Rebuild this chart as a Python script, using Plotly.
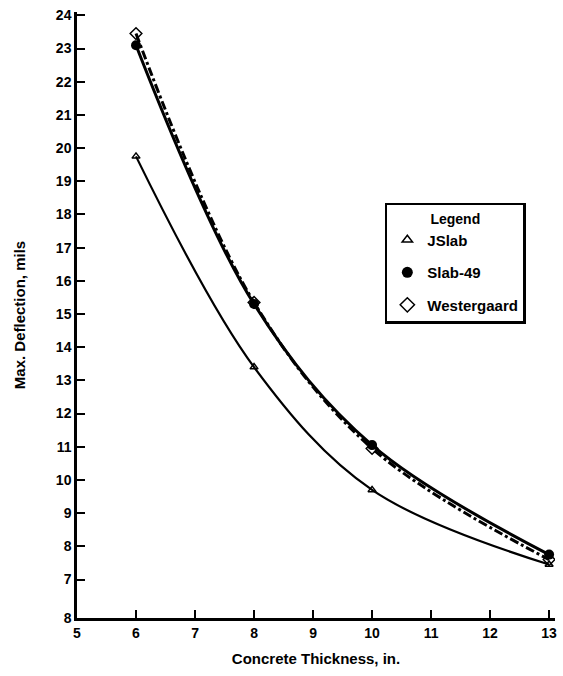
import plotly.graph_objects as go

thickness = [6, 8, 10, 13]
jslab = [19.75, 13.4, 9.7, 7.45]
slab49 = [23.1, 15.3, 11.05, 7.75]
westergaard = [23.45, 15.35, 10.95, 7.6]

x_tickvals = [5, 6, 7, 8, 9, 10, 11, 12, 13]
x_ticktext = ["5", "6", "7", "8", "9", "10", "11", "12", "13"]
y_tickvals = [5.84, 7, 8, 9, 10, 11, 12, 13, 14, 15, 16, 17, 18, 19, 20, 21, 22, 23, 24]
y_ticktext = ["8", "7", "8", "9", "10", "11", "12", "13", "14", "15", "16", "17", "18", "19", "20", "21", "22", "23", "24"]

fig = go.Figure()
# curves
fig.add_trace(go.Scatter(x=thickness, y=jslab, mode="lines+markers", line=dict(color="black", width=2.2, shape="spline"),
                         marker=dict(symbol="triangle-up-open", size=7, color="black", line=dict(width=1.5)), showlegend=False))
fig.add_trace(go.Scatter(x=thickness, y=slab49, mode="lines+markers", line=dict(color="black", width=3, shape="spline"),
                         marker=dict(symbol="circle", size=10, color="black"), showlegend=False))
fig.add_trace(go.Scatter(x=thickness, y=westergaard, mode="lines+markers", line=dict(color="black", width=3, shape="spline", dash="dashdot"),
                         marker=dict(symbol="diamond-open", size=9, color="black", line=dict(width=1.5)), showlegend=False))
# legend entries (markers only)
fig.add_trace(go.Scatter(x=[None], y=[None], mode="markers", name="JSlab", legendgroup="a",
                         marker=dict(symbol="triangle-up-open", size=9, color="black", line=dict(width=1.5, color="black"))))
fig.add_trace(go.Scatter(x=[None], y=[None], mode="markers", name="Slab-49", legendgroup="b",
                         marker=dict(symbol="circle", size=11, color="black")))
fig.add_trace(go.Scatter(x=[None], y=[None], mode="markers", name="Westergaard", legendgroup="c",
                         marker=dict(symbol="diamond-open", size=11, color="black", line=dict(width=1.5, color="black"))))

font_family = "Liberation Sans, Arial, sans-serif"
fig.update_layout(
    width=563, height=676,
    margin=dict(l=77, r=8, t=12, b=58, autoexpand=False),
    paper_bgcolor="white", plot_bgcolor="white",
    font=dict(family=font_family, color="black", size=14, weight="bold"),
    legend=dict(x=0.644, y=0.685, xanchor="left", yanchor="top",
                bordercolor="black", borderwidth=2.5, bgcolor="white",
                title=dict(text="Legend", side="top center", font=dict(size=14, weight="bold")),
                font=dict(size=15, weight="bold"), itemwidth=30, tracegroupgap=10),
)
fig.update_xaxes(range=[5, 13.1], tickvals=x_tickvals, ticktext=x_ticktext, showgrid=False, zeroline=False, automargin=False,
                 showline=True, linecolor="black", linewidth=2.5, ticks="inside", ticklen=8, tickwidth=2, tickcolor="black",
                 tickfont=dict(size=14, weight="bold"), ticklabeloverflow="allow",
                 title=dict(text="Concrete Thickness, in.", font=dict(size=15, weight="bold"), standoff=14))
fig.update_yaxes(range=[5.84, 24.1], tickvals=y_tickvals, ticktext=y_ticktext, showgrid=False, zeroline=False, automargin=False,
                 showline=True, linecolor="black", linewidth=2.5, ticks="inside", ticklen=8, tickwidth=2, tickcolor="black",
                 tickfont=dict(size=14, weight="bold"), ticklabeloverflow="allow",
                 title=dict(text="Max. Deflection, mils", font=dict(size=15, weight="bold"), standoff=27))

fig.write_html("out.html", config={"displayModeBar": False}, post_script="document.body.style.margin='0';")
